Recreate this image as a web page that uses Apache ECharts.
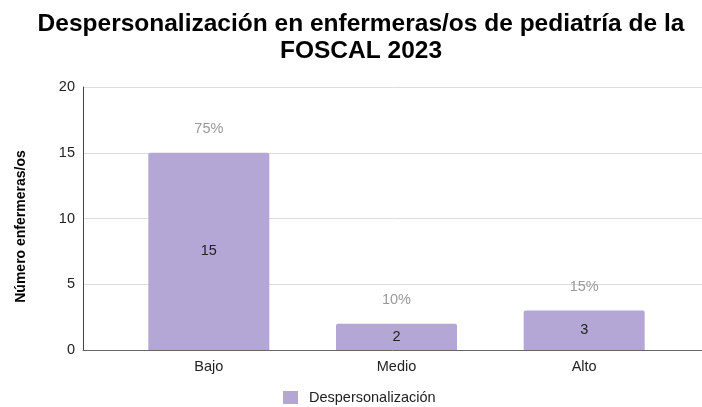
<!DOCTYPE html>
<html>
<head>
<meta charset="utf-8">
<script src="https://cdn.jsdelivr.net/npm/echarts@6/dist/echarts.min.js"></script>
<style>
  html, body { margin: 0; padding: 0; background: #fff; }
  #chart { width: 702px; height: 407px; }
</style>
</head>
<body>
<div id="chart"></div>
<script>
// Niveles de despersonalización y número de enfermeras/os en cada nivel
const categories = ['Bajo', 'Medio', 'Alto'];
const counts = [15, 2, 3];
const percents = ['75%', '10%', '15%'];
const yTicks = [0, 5, 10, 15, 20];

const FONT = '"Liberation Sans", Arial, sans-serif';
const BAR_COLOR = '#b4a7d6';
const LABEL_SIZE = 14.5;

const chart = echarts.init(document.getElementById('chart'), null, { renderer: 'canvas' });

chart.setOption({
  animation: false,
  textStyle: { fontFamily: FONT },
  title: {
    text: 'Despersonalización en enfermeras/os de pediatría de la\nFOSCAL 2023',
    left: 361,
    textAlign: 'center',
    top: 10,
    padding: 0,
    textStyle: {
      fontFamily: FONT,
      fontSize: 24.5,
      fontWeight: 'bold',
      color: '#000',
      lineHeight: 27.5
    }
  },
  legend: {
    data: ['Despersonalización'],
    left: 283,
    top: 390,
    padding: 0,
    itemWidth: 15,
    itemHeight: 13,
    icon: 'rect',
    textStyle: {
      fontFamily: FONT,
      fontSize: LABEL_SIZE,
      color: '#222',
      padding: [0, 0, 0, 6]
    }
  },
  grid: [
    // full plotting frame: y axis, gridlines, baseline
    { left: 83, right: 0, top: 87, bottom: 57 },
    // inner band where the category bars sit
    { left: 115, right: 24, top: 87, bottom: 57 }
  ],
  xAxis: [
    {
      gridIndex: 0,
      type: 'value',
      min: 0, max: 1,
      axisLine: { show: true, lineStyle: { color: '#666', width: 1 } },
      axisTick: { show: false },
      axisLabel: { show: false },
      splitLine: { show: false }
    },
    {
      gridIndex: 1,
      type: 'category',
      data: categories,
      axisLine: { show: false },
      axisTick: { show: false },
      axisLabel: { margin: 9, fontSize: LABEL_SIZE, color: '#222', fontFamily: FONT }
    }
  ],
  yAxis: [
    {
      gridIndex: 0,
      type: 'value',
      min: yTicks[0],
      max: yTicks[yTicks.length - 1],
      interval: yTicks[1] - yTicks[0],
      name: 'Número enfermeras/os',
      nameLocation: 'middle',
      nameGap: 55,
      nameTextStyle: {
        fontFamily: FONT,
        fontSize: 14,
        fontWeight: 'bold',
        color: '#000',
        padding: [0, 16, 0, 0]
      },
      axisLine: { show: true, lineStyle: { color: '#444', width: 1 } },
      axisTick: { show: false },
      axisLabel: { margin: 8, fontSize: LABEL_SIZE, color: '#222', fontFamily: FONT },
      splitLine: { show: true, lineStyle: { color: '#ddd', width: 1 } }
    },
    {
      gridIndex: 1,
      type: 'value',
      min: yTicks[0],
      max: yTicks[yTicks.length - 1],
      interval: yTicks[1] - yTicks[0],
      show: false,
      splitLine: { show: false }
    }
  ],
  series: [
    {
      name: 'Despersonalización',
      type: 'bar',
      xAxisIndex: 1,
      yAxisIndex: 1,
      data: counts,
      barWidth: 121,
      itemStyle: { color: BAR_COLOR, borderRadius: [2, 2, 0, 0] },
      label: {
        show: true,
        position: 'inside',
        fontSize: LABEL_SIZE,
        color: '#222',
        fontFamily: FONT
      },
      z: 3
    },
    {
      // percentage share shown above each bar
      name: 'Porcentaje',
      type: 'bar',
      xAxisIndex: 1,
      yAxisIndex: 1,
      data: counts,
      barWidth: 121,
      barGap: '-100%',
      itemStyle: { color: 'rgba(0,0,0,0)' },
      label: {
        show: true,
        position: 'top',
        distance: 16,
        fontSize: LABEL_SIZE,
        color: '#999',
        fontFamily: FONT,
        formatter: (p) => percents[p.dataIndex]
      },
      silent: true,
      z: 4
    }
  ]
});
</script>
</body>
</html>
